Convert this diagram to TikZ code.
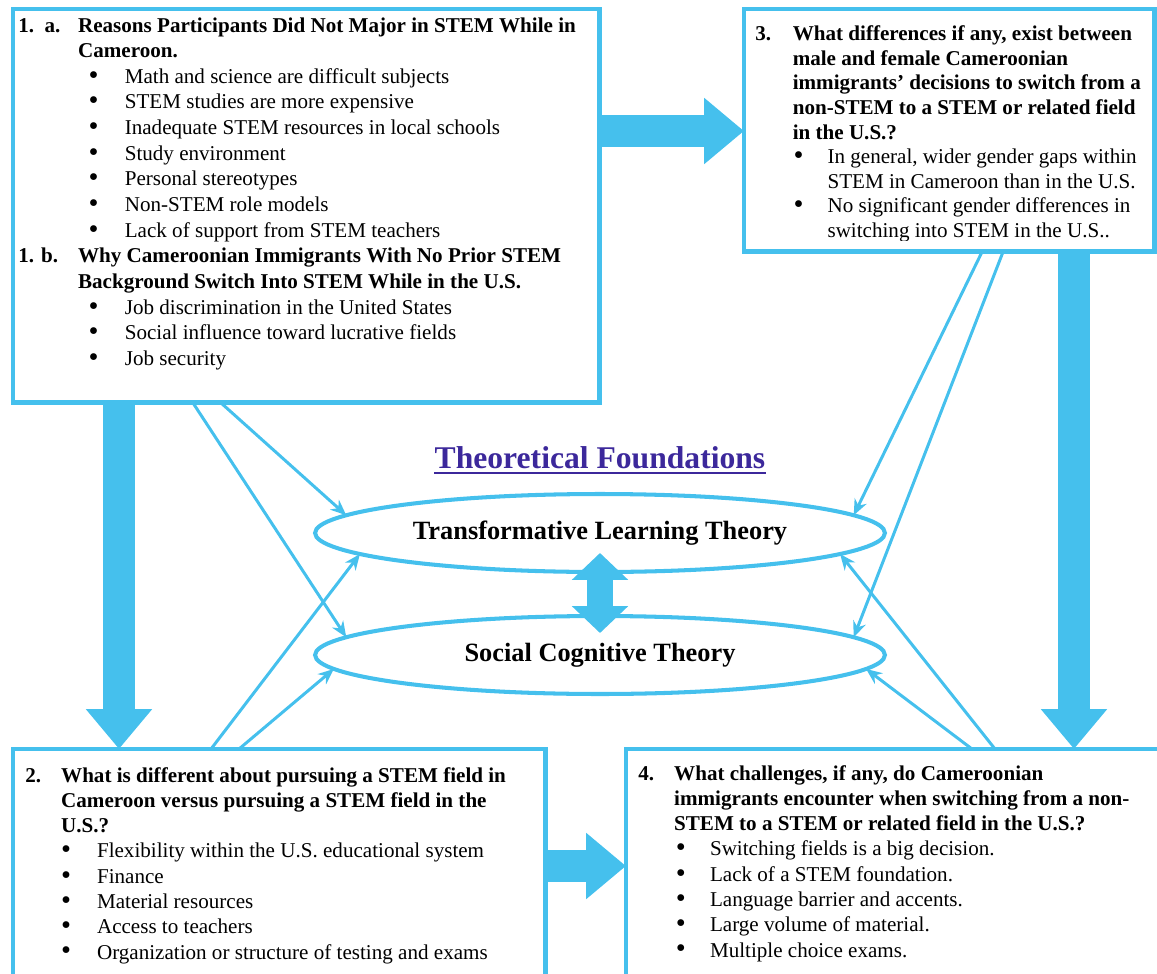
\documentclass[tikz,border=0pt]{standalone}
\usepackage{fontspec}
\setmainfont{Liberation Serif}
\usepackage{graphicx}
\usepackage{tikz}
\usetikzlibrary{arrows.meta,calc,shapes.geometric}
\definecolor{frameblue}{RGB}{69,192,237}
\definecolor{titlepurple}{RGB}{60,40,155}
\newlength\bulin
\newlength\bulgap
\newcommand{\bul}[1]{\hspace*{\bulin}\makebox[\bulgap][l]{\smash{\raisebox{-0.5pt}{\scalebox{1.35}{\textbullet}}}}#1}
\newcommand{\cont}[1]{\hspace*{\dimexpr\bulin+\bulgap\relax}#1}
\tikzset{
  qbox/.style={draw=frameblue, line width=2.8pt, fill=white, inner sep=0pt, outer sep=0pt, anchor=north west},
  qtext/.style={anchor=base west, inner sep=0pt, font=\fontsize{12}{14.6}\selectfont},
  theory/.style={ellipse, draw=frameblue, line width=2.3pt, fill=white, inner sep=0pt, outer sep=0pt,
    minimum width=11.4cm, minimum height=1.56cm, font=\fontsize{15}{18}\selectfont\bfseries},
  link/.style={draw=frameblue, line width=1.7pt, -{Stealth[length=9pt,width=7.5pt]}},
  fatarrow/.style={draw=frameblue, line width=18pt, -{Triangle[length=22.7pt,width=36.3pt]}},
  twoway/.style={draw=frameblue, line width=14.7pt, {Triangle[length=15.3pt,width=31.2pt]}-{Triangle[length=15.3pt,width=31.2pt]}}
}

\begin{document}
\begin{tikzpicture}[x=0.02cm,y=-0.02cm]
\useasboundingbox (0,0) rectangle (1157,974);
\node[qbox, minimum width=11.73cm, minimum height=7.88cm] (q1) at (13,9) {};
\node[qbox, minimum width=8.22cm, minimum height=4.86cm] (q3) at (744,9) {};
\node[qbox, minimum width=10.66cm, minimum height=5cm] (q2) at (13,749) {};
\node[qbox, minimum width=10.9cm, minimum height=5cm] (q4) at (626,749) {};

\node[inner sep=0pt, anchor=base, text=titlepurple, font=\fontsize{18}{22}\selectfont\bfseries] (title) at (600,468) {Theoretical Foundations};
\draw[titlepurple, line width=1.7pt] ($(title.base west)+(0,5)$) -- ($(title.base east)+(0,5)$);

\node[theory] (tlt) at (600,533) {Transformative Learning Theory};
\node[theory] (sct) at (600,655) {Social Cognitive Theory};

\draw[link] ($(q1.south west)+(208,0)$) -- (tlt.176);
\draw[link] ($(q1.south west)+(180,0)$) -- (sct.176);
\draw[link] ($(q2.north west)+(198,0)$) -- (tlt.185);
\draw[link] ($(q2.north west)+(226,0)$) -- (sct.183);
\draw[link] ($(q3.south west)+(238,0)$) -- (tlt.4);
\draw[link] ($(q3.south west)+(259,0)$) -- (sct.4);
\draw[link] ($(q4.north west)+(369,0)$) -- (tlt.355);
\draw[link] ($(q4.north west)+(346,0)$) -- (sct.357);

\draw[fatarrow] ($(q1.north east)+(0,122)$) -- ($(q3.north west)+(0,122)$);
\draw[fatarrow] ($(q1.south west)+(106,0)$) -- ($(q2.north west)+(106,0)$);
\draw[fatarrow] ($(q3.south west)+(330,0)$) -- ($(q4.north west)+(448,0)$);
\draw[fatarrow] ($(q2.north east)+(0,117)$) -- ($(q4.north west)+(0,117)$);
\draw[twoway] ($(tlt.south)+(0,-19)$) -- ($(sct.north)+(0,17)$);

\node[qtext] (t1) at (18,32) {\setlength\bulin{6pt}\setlength\bulgap{20.6pt}%
\begin{tabular}[t]{@{}p{34pt}@{}l@{}}
\textbf{1.\ \ a.} & \textbf{Reasons Participants Did Not Major in STEM While in}\\
 & \textbf{Cameroon.}\\
 & \bul{Math and science are difficult subjects}\\
 & \bul{STEM studies are more expensive}\\
 & \bul{Inadequate STEM resources in local schools}\\
 & \bul{Study environment}\\
 & \bul{Personal stereotypes}\\
 & \bul{Non-STEM role models}\\
 & \bul{Lack of support from STEM teachers}\\
\textbf{1. b.} & \textbf{Why Cameroonian Immigrants With No Prior STEM}\\
 & \textbf{Background Switch Into STEM While in the U.S.}\\
 & \bul{Job discrimination in the United States}\\
 & \bul{Social influence toward lucrative fields}\\
 & \bul{Job security}
\end{tabular}};

\begin{scope}
\clip ($(q3.south west)+(0,-11)$) rectangle (q3.north east);
\node[qtext, font=\fontsize{12}{14}\selectfont] (t3) at (755,40.7) {\setlength\bulin{0.5pt}\setlength\bulgap{19.3pt}%
\begin{tabular}[t]{@{}p{21.3pt}@{}l@{}}
\textbf{3.} & \textbf{What differences if any, exist between}\\
 & \textbf{male and female Cameroonian}\\
 & \textbf{immigrants’ decisions to switch from a}\\
 & \textbf{non-STEM to a STEM or related field}\\
 & \textbf{in the U.S.?}\\
 & \bul{In general, wider gender gaps within}\\
 & \cont{STEM in Cameroon than in the U.S.}\\
 & \bul{No significant gender differences in}\\
 & \cont{switching into STEM in the U.S..}
\end{tabular}};
\end{scope}

\node[qtext, font=\fontsize{12}{14.4}\selectfont] (t2) at (25,782) {\setlength\bulin{0pt}\setlength\bulgap{20.4pt}%
\begin{tabular}[t]{@{}p{20.4pt}@{}l@{}}
\textbf{2.} & \textbf{What is different about pursuing a STEM field in}\\
 & \textbf{Cameroon versus pursuing a STEM field in the}\\
 & \textbf{U.S.?}\\
 & \bul{Flexibility within the U.S. educational system}\\
 & \bul{Finance}\\
 & \bul{Material resources}\\
 & \bul{Access to teachers}\\
 & \bul{Organization or structure of testing and exams}
\end{tabular}};

\node[qtext, font=\fontsize{12}{14.4}\selectfont] (t4) at (638,780) {\setlength\bulin{1pt}\setlength\bulgap{19.4pt}%
\begin{tabular}[t]{@{}p{20.4pt}@{}l@{}}
\textbf{4.} & \textbf{What challenges, if any, do Cameroonian}\\
 & \textbf{immigrants encounter when switching from a non-}\\
 & \textbf{STEM to a STEM or related field in the U.S.?}\\
 & \bul{Switching fields is a big decision.}\\
 & \bul{Lack of a STEM foundation.}\\
 & \bul{Language barrier and accents.}\\
 & \bul{Large volume of material.}\\
 & \bul{Multiple choice exams.}
\end{tabular}};
\end{tikzpicture}
\end{document}
